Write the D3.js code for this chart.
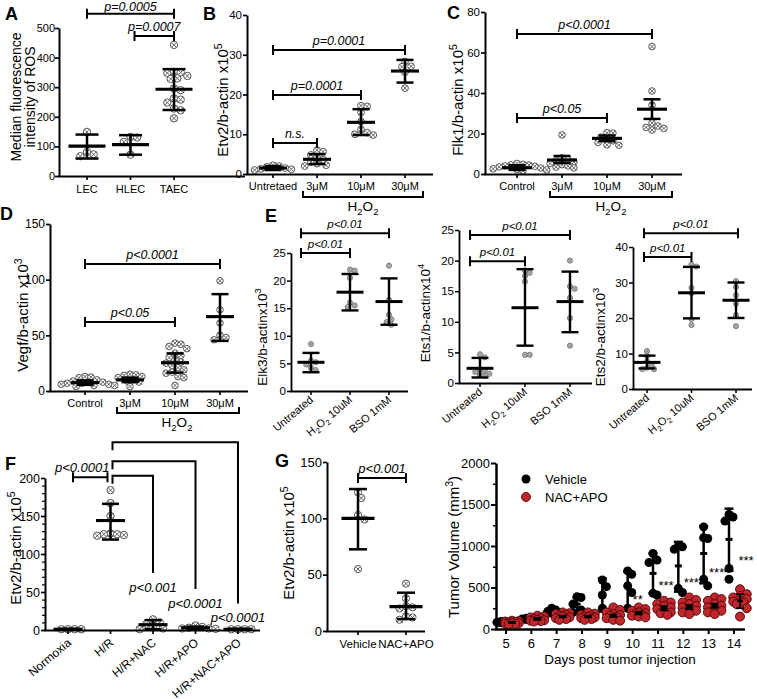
<!DOCTYPE html>
<html><head><meta charset="utf-8">
<script src="https://cdn.jsdelivr.net/npm/d3@7"></script>
<style>
body{margin:0;background:#fff;}
svg{display:block;}
</style></head><body>
<svg id="chart" width="757" height="699"></svg>
<script>
// ================= DATA =================
// Panel A
const catsA = ["LEC","HLEC","TAEC"];
const ptsA = [[149,81,73,67],[132,130,115,72],[443,352,350,348,338,330,328,296,290,262,258,248,228,222,195]];
const meanA = [101,106,293], loA = [59,72,223], hiA = [140,138,361];
const ticksA = [0,100,200,300,400,500];
// Panel B
const catsB = ["Untretaed","3μM","10μM","30μM"];
const ptsB = [[2.2,2.0,1.8,1.5,1.3,1.2,1.0],[6,5.6,4.8,4.2,3.6,3.0,2.6,2.2,2.0],[17.2,17.0,15.5,13.2,11.2,10.4,10.0,9.8],[28.3,27.1,27.0,25.6,21.6]];
const meanB = [1.5,3.7,13,25.9], loB = [1.0,2.5,9.8,23], hiB = [2.0,5.0,16.3,28.7];
const ticksB = [0,10,20,30,40];
// Panel C
const catsC = ["Control","3μM","10μM","30μM"];
const ptsC = [[5.2,4.8,4.5,4.0,3.5,3.0,2.6,2.2,2.0,1.6,3.8,4.4],[19.3,8.0,7.2,6.5,6.0,5.2,4.6,4.0,3.4,3.0],[20.4,20.2,18.2,17.5,16.4,15.6,14.4,14.2],[62.9,41,34,25.2,23.7,22.5,21.7,23.0]];
const meanC = [3.1,6.9,17.6,32], loC = [2.0,5.4,16.2,27.2], hiC = [4.3,8.9,19.0,36.9];
const ticksC = [0,20,40,60,80];
// Panel D
const catsD = ["Control","3μM","10μM","30μM"];
const ptsD = [[13,12.5,12,10,9,8,8,7,7,6,6,5,5,4],[15,14.5,14,13,12,10,9,8,4],[43,42,40,38,34,32,30,28,26,25,23,21,19,17,16,13,12,5],[99,73,61,50,48,46]];
const meanD = [7.5,10,25.4,66.8], loD = [5.5,8,16.5,45], hiD = [9.5,12,33.8,87];
const ticksD = [0,50,100,150];
// Panel E
const catsE = ["Untreated","H2O2 10uM","BSO 1mM"];
const ptsE1 = [[8.5,5.5,5.2,4.8,4.2,3.8],[22,21.8,20.5,16,15.5,15.2],[22.7,16.5,13.8,13,12.5,12]];
const meanE1 = [5.2,17.9,16.2], loE1 = [3.4,14.6,12], hiE1 = [6.9,21.2,20.4];
const ptsE2 = [[4.7,4.2,2.2,1.8,1.5,1.3,1.2,2.0],[18.4,18,17.5,16.6,4.6,4.6],[20,15.8,15.4,13.9,10.6,6.1]];
const meanE2 = [2.4,12.3,13.3], loE2 = [0.9,6.1,8.3], hiE2 = [4.1,18.6,18.2];
const ptsE3 = [[10.7,9.3,7.8,6.8,6.0,5.6,5.6],[35,34.5,28.5,27,19.7,18],[30.4,28.8,26.4,24,20.8,17.7]];
const meanE3 = [7.5,27.1,25], loE3 = [5.8,19.9,20], hiE3 = [9.4,34.4,30];
const ticksE12 = [0,5,10,15,20,25], ticksE3 = [0,10,20,30,40];
// Panel F
const catsF = ["Normoxia","H/R","H/R+NAC","H/R+APO","H/R+NAC+APO"];
const ptsF = [[1,1,1,1],[184,167,150,127,126,126,125,124],[14,10,8,5,2,1],[6,4,3,2,2,1.5],[1,1,1,1]];
const meanF = [1,144,7,3,1], loF = [0.5,119,1,1.5,0.5], hiF = [1.5,166,13,4.5,1.5];
const ticksF = [0,50,100,150,200];
// Panel G
const catsG = ["Vehicle","NAC+APO"];
const ptsG = [[123,118,103,99,55],[42,29,22,21,20,13,12,10]];
const meanG = [100,21.6], loG = [72.5,10.6], hiG = [126,34];
const ticksG = [0,50,100,150];
// Tumor volume panel
const days = [5,6,7,8,9,10,11,12,13,14];
const vehVals = [[90,85,80,75,70],[130,125,120,115,110],[250,230,210,190,180],[390,380,300,230,200],[590,510,410,250,200],[700,660,520,440,250],[910,830,800,430,410],[1000,990,960,490,440],[1230,1100,1090,600,520],[1380,1350,1300,730,600]];
const vehMean = [80,120,210,300,430,537,670,760,910,1080];
const vehLo = [75,115,185,220,210,250,430,450,550,700];
const vehHi = [85,125,235,380,610,690,910,1050,1240,1450];
const nacVals = [[100,95,90,85,80,75,70,65,60,55],[160,150,140,130,120,110,105,100,95,90],[200,190,180,170,160,150,140,130,120,110],[200,185,170,160,150,145,140,130,120,110],[260,230,200,180,170,160,150,130,110,100],[260,240,220,200,190,180,170,160,150,140],[340,320,300,280,260,240,220,200,190,170],[380,350,320,300,280,260,240,220,200,180],[380,360,340,300,280,260,240,220,200,180],[480,420,400,380,360,340,330,320,300,250,150]];
const nacMean = [80,120,150,150,160,190,250,265,280,340];
const nacLo = [75,110,140,140,145,175,225,240,255,250];
const nacHi = [85,130,160,160,175,205,275,290,305,420];
const tumorTicks = [0,500,1000,1500,2000];
const starDays = [10,11,12,13,14];
const starText = ["**","***","***","***","***"];
const starVals = [390,550,590,710,860];

// ================= DRAWING =================
const FONT = "'Liberation Sans', Arial, Helvetica, sans-serif";
const svg = d3.select("#chart").attr("font-family", FONT);

function rich(sel, segs, fs){
  let shift = 0;
  segs.forEach(([t,m])=>{
    const target = m==="sup" ? -0.42*fs : m==="sub" ? 0.28*fs : 0;
    const ts = sel.append("tspan").text(t).attr("dy", target - shift);
    if(m) ts.attr("font-size", fs*0.7);
    shift = target;
  });
}
function chem(s){
  if(s.startsWith("H2O2")) return [["H"],["2","sub"],["O"],["2","sub"],[s.slice(4)]];
  return [[s]];
}
function marker(g, x, y, r, type){
  if(type==="ox"){
    g.append("circle").attr("cx",x).attr("cy",y).attr("r",r).attr("fill","#fff").attr("stroke","#555").attr("stroke-width",1);
    const d = r*0.68;
    g.append("path").attr("d",`M${x-d},${y-d}L${x+d},${y+d}M${x-d},${y+d}L${x+d},${y-d}`).attr("stroke","#555").attr("stroke-width",0.9);
  } else if(type==="dot"){
    g.append("circle").attr("cx",x).attr("cy",y).attr("r",r).attr("fill","#b8b8b8").attr("stroke","#6a6a6a").attr("stroke-width",0.8);
    const d = r*0.6;
    g.append("path").attr("d",`M${x-d},${y-d}L${x+d},${y+d}M${x-d},${y+d}L${x+d},${y-d}`).attr("stroke","#777").attr("stroke-width",0.6);
  } else if(type==="black"){
    g.append("circle").attr("cx",x).attr("cy",y).attr("r",r).attr("fill","#000");
  } else if(type==="red"){
    g.append("circle").attr("cx",x).attr("cy",y).attr("r",r).attr("fill","#c0272d").attr("stroke","#4d0606").attr("stroke-width",0.9);
  }
}
// deterministic swarm layout: offsets limited to +-maxOff
function dodge(ys, dist, maxOff){
  maxOff = maxOff==null ? 1e9 : maxOff;
  const order = ys.map((_,i)=>i).sort((a,b)=>ys[a]-ys[b]);
  const placed = [], off = Array(ys.length).fill(0);
  order.forEach(i=>{
    let best = 0, bestD = -1, done = false;
    for(let k=0;k<80;k++){
      const o = (k%2?1:-1)*Math.ceil(k/2)*dist*0.5;
      if(Math.abs(o) > maxOff) break;
      const md = placed.length ? Math.min(...placed.map(p=>Math.hypot(p.x-o,p.y-ys[i]))) : 1e9;
      if(md >= dist*0.98){ best = o; done = true; break; }
      if(md > bestD){ bestD = md; best = o; }
    }
    off[i] = best; placed.push({x:best,y:ys[i]});
  });
  return off;
}
function letter(t,x,y){
  svg.append("text").attr("x",x).attr("y",y).attr("font-size",18).attr("font-weight","bold").text(t);
}
function vtitle(segs, xb, yc, fs){
  const t = svg.append("text").attr("transform",`translate(${xb},${yc}) rotate(-90)`)
    .attr("text-anchor","middle").attr("font-size",fs);
  rich(t, segs, fs);
}

function dotPanel(c){
  const g = svg.append("g");
  const y = d3.scaleLinear().domain(c.domain).range([c.yB, c.yT]);
  const x = d3.scalePoint().domain(c.cats).range(c.catRange);
  const aw = c.axisW || 2, bw = c.bw || 2.5;
  const pg = g.append("g");
  c.pts.forEach((vals,i)=>{
    const ys = vals.map(v=>y(v));
    const off = dodge(ys, 2*c.r*(c.sep||0.9), c.maxOff);
    vals.forEach((v,j)=>marker(pg, x(c.cats[i])+off[j], ys[j], c.r, c.marker));
  });
  const eg = g.append("g").attr("stroke","#000").attr("fill","none");
  c.cats.forEach((cat,i)=>{
    const cx = x(cat);
    eg.append("line").attr("x1",cx).attr("x2",cx).attr("y1",y(c.lo[i])).attr("y2",y(c.hi[i])).attr("stroke-width",bw);
    [c.lo[i],c.hi[i]].forEach(v=>eg.append("line").attr("x1",cx-c.capW/2).attr("x2",cx+c.capW/2).attr("y1",y(v)).attr("y2",y(v)).attr("stroke-width",bw));
    eg.append("line").attr("x1",cx-c.meanW/2).attr("x2",cx+c.meanW/2).attr("y1",y(c.mean[i])).attr("y2",y(c.mean[i])).attr("stroke-width",bw+0.6);
  });
  // y axis
  const gy = g.append("g").attr("transform",`translate(${c.axisX},0)`)
    .call(d3.axisLeft(y).tickValues(c.ticks).tickSize(c.tickLen||4).tickSizeOuter(0).tickPadding(c.tickPad==null?1:c.tickPad));
  gy.attr("font-family",FONT).attr("font-size",c.tickFont||11.5);
  gy.select(".domain").attr("stroke-width",aw);
  gy.selectAll(".tick line").attr("stroke-width",aw*0.85);
  gy.selectAll(".tick text").attr("fill","#000");
  if(c.minor){
    const mt = d3.range(c.domain[0], c.domain[1]+1e-9, c.minor).filter(v=>!c.ticks.includes(v));
    gy.selectAll(".minor").data(mt).join("line").attr("x1",-3).attr("x2",0)
      .attr("y1",d=>y(d)+0.5).attr("y2",d=>y(d)+0.5).attr("stroke","#000").attr("stroke-width",1.2);
  }
  // x axis
  g.append("line").attr("x1",c.axisX-aw/2).attr("x2",c.xRight).attr("y1",c.yB+0.5).attr("y2",c.yB+0.5).attr("stroke","#000").attr("stroke-width",aw);
  c.cats.forEach(cat=>{
    g.append("line").attr("x1",x(cat)).attr("x2",x(cat)).attr("y1",c.yB).attr("y2",c.yB+4).attr("stroke","#000").attr("stroke-width",aw*0.85);
  });
  const lf = c.catFont || 11;
  c.cats.forEach(cat=>{
    if(c.rot){
      const t = g.append("text").attr("transform",`translate(${x(cat)+(c.rotDx||3)},${c.yB+(c.rotDy||10)}) rotate(${c.rot})`)
        .attr("text-anchor","end").attr("font-size",lf);
      rich(t, chem(cat), lf);
    } else {
      g.append("text").attr("x",x(cat)).attr("y",c.yB+(c.labDy||16)).attr("text-anchor","middle").attr("font-size",lf).text(cat);
    }
  });
  // significance bars
  (c.sigs||[]).forEach(s=>{
    const x1 = x(c.cats[s.a])+(s.oa||0), x2 = x(c.cats[s.b])+(s.ob||0), yy = y(s.v);
    g.append("path").attr("d",`M${x1},${yy-5}V${yy+5}M${x1},${yy}H${x2}M${x2},${yy-5}V${yy+5}`)
      .attr("stroke","#000").attr("stroke-width",2).attr("fill","none");
    g.append("text").attr("x",(x1+x2)/2+(s.tdx||0)).attr("y",yy-(s.tdy||5)).attr("text-anchor","middle")
      .attr("font-size",c.sigFont||12.5).attr("font-style","italic").text(s.text);
  });
  if(c.title) vtitle(c.title, c.titleX, c.titleY, c.titleFont||15);
  return {x,y,g};
}
function h2o2Bracket(x1,x2,yy,tx){
  svg.append("path").attr("d",`M${x1},${yy-6}V${yy}H${x2}V${yy-6}`).attr("stroke","#000").attr("stroke-width",2).attr("fill","none");
  const t = svg.append("text").attr("x",tx).attr("y",yy+14).attr("text-anchor","middle").attr("font-size",13.5);
  rich(t, chem("H2O2"), 13.5);
}

// ---- A ----
letter("A",5,20);
dotPanel({cats:catsA, pts:ptsA, mean:meanA, lo:loA, hi:hiA, axisX:59, xRight:245, yB:176, yT:28,
  domain:[0,500], ticks:ticksA, catRange:[87,174], marker:"ox", r:3.7, meanW:37, capW:23, labDy:17,
  tickFont:11, tickPad:0,
  sigs:[{a:0,b:2,v:548,text:"p=0.0005",tdy:3},{a:1,b:2,v:473,text:"p=0.0007",oa:4}]});
svg.append("text").attr("transform","translate(21,97) rotate(-90)").attr("text-anchor","middle").attr("font-size",14).text("Median fluorescence");
svg.append("text").attr("transform","translate(35,97) rotate(-90)").attr("text-anchor","middle").attr("font-size",14).text("intensity of ROS");

// ---- B ----
letter("B",203,20);
dotPanel({cats:catsB, pts:ptsB, mean:meanB, lo:loB, hi:hiB, axisX:247, xRight:433, yB:174, yT:15,
  domain:[0,40], ticks:ticksB, catRange:[273,405], marker:"ox", r:3.4, meanW:28, capW:17,
  sigs:[{a:0,b:3,v:31.2,text:"p=0.0001"},{a:0,b:2,v:19.9,text:"p=0.0001"},{a:0,b:1,v:7.8,text:"n.s."}],
  title:[["Etv2/b-actin x10"],["5","sup"]], titleX:228, titleY:100});
h2o2Bracket(303,423,197,363);

// ---- C ----
letter("C",447,19);
dotPanel({cats:catsC, pts:ptsC, mean:meanC, lo:loC, hi:hiC, axisX:485, xRight:682, yB:174, yT:12,
  domain:[0,80], ticks:ticksC, catRange:[517,652], marker:"ox", r:3.3, meanW:30, capW:17,
  sigs:[{a:0,b:3,v:69.1,text:"p<0.0001"},{a:0,b:2,v:27.7,text:"p<0.05"}],
  title:[["Flk1/b-actin x10"],["5","sup"]], titleX:463, titleY:100});
h2o2Bracket(550,672,197,611);

// ---- D ----
letter("D",0,220);
dotPanel({cats:catsD, pts:ptsD, mean:meanD, lo:loD, hi:hiD, axisX:50, xRight:248, yB:391, yT:224,
  domain:[0,150], ticks:ticksD, catRange:[85,220], marker:"ox", r:3.3, meanW:28, capW:17, tickFont:12,
  sigs:[{a:0,b:3,v:114,text:"p<0.0001"},{a:0,b:2,v:62,text:"p<0.05"}],
  title:[["Vegf/b-actin x10"],["3","sup"]], titleX:28, titleY:315});
h2o2Bracket(117,239,413,177);

// ---- E ----
letter("E",265,222);
dotPanel({cats:catsE, pts:ptsE1, mean:meanE1, lo:loE1, hi:hiE1, axisX:291, xRight:408, yB:391, yT:253,
  domain:[0,25], ticks:ticksE12, catRange:[311,389], marker:"dot", r:2.6, meanW:27, capW:17, axisW:1.8, bw:2.4,
  tickFont:11.5, rot:-40, rotDx:3, rotDy:10, sigFont:11.5,
  sigs:[{a:0,b:2,v:28.6,text:"p<0.01",oa:-10},{a:0,b:1,v:25,text:"p<0.01",oa:-10}],
  title:[["Elk3/b-actinx10"],["3","sup"]], titleX:267, titleY:337, titleFont:13.5});
dotPanel({cats:catsE, pts:ptsE2, mean:meanE2, lo:loE2, hi:hiE2, axisX:459, xRight:592, yB:383, yT:230,
  domain:[0,25], ticks:ticksE12, catRange:[480,570], marker:"dot", r:2.6, meanW:27, capW:17, axisW:1.8, bw:2.4,
  tickFont:11.5, rot:-40, rotDx:3, rotDy:10, sigFont:11.5,
  sigs:[{a:0,b:2,v:24.2,text:"p<0.01",oa:-10},{a:0,b:1,v:19.9,text:"p<0.01",oa:-10}],
  title:[["Ets1/b-actinx10"],["4","sup"]], titleX:430, titleY:313, titleFont:13.5});
dotPanel({cats:catsE, pts:ptsE3, mean:meanE3, lo:loE3, hi:hiE3, axisX:633, xRight:752, yB:389, yT:247,
  domain:[0,40], ticks:ticksE3, catRange:[647,736], marker:"dot", r:2.6, meanW:27, capW:17, axisW:1.8, bw:2.4,
  tickFont:11.5, rot:-40, rotDx:3, rotDy:10, sigFont:11.5,
  sigs:[{a:0,b:2,v:43.9,text:"p<0.01",oa:-3,ob:2},{a:0,b:1,v:37.2,text:"p<0.01",oa:-3}],
  title:[["Ets2/b-actinx10"],["3","sup"]], titleX:605, titleY:337, titleFont:13.5});

// ---- F ----
letter("F",5,470);
const pF = dotPanel({cats:catsF, pts:ptsF, mean:meanF, lo:loF, hi:hiF, axisX:45, xRight:260, yB:630, yT:478,
  domain:[0,200], ticks:ticksF, minor:10, catRange:[68,238], marker:"ox", r:3.7, meanW:29, capW:17, tickFont:12.5,
  rot:-40, rotDx:4, rotDy:14, catFont:12, sigFont:13,
  sigs:[{a:0,b:1,v:201,text:"p<0.0001",oa:5,ob:-3,tdx:-8}],
  title:[["Etv2/b-actin x10"],["5","sup"]], titleX:21, titleY:548});
const fBrackets = [{to:"H/R+NAC",top:203,end:75,text:"p<0.001"},{to:"H/R+APO",top:222,end:54,text:"p<0.0001"},{to:"H/R+NAC+APO",top:247,end:35,text:"p<0.0001"}];
fBrackets.forEach(b=>{
  const hx = pF.x("H/R")+2, tx = pF.x(b.to);
  svg.append("path").attr("d",`M${hx},${pF.y(b.top)+8}V${pF.y(b.top)}H${tx}V${pF.y(b.end)}`)
    .attr("stroke","#000").attr("stroke-width",2).attr("fill","none");
  svg.append("text").attr("x",tx).attr("y",pF.y(b.end)+19).attr("text-anchor","middle")
    .attr("font-size",13).attr("font-style","italic").text(b.text);
});

// ---- G ----
letter("G",275,467);
dotPanel({cats:catsG, pts:ptsG, mean:meanG, lo:loG, hi:hiG, axisX:327, xRight:425, yB:631, yT:462,
  domain:[0,150], ticks:ticksG, catRange:[358,406], marker:"ox", r:3.6, meanW:33, capW:18, tickFont:13,
  labDy:17, catFont:11.5, sigFont:13,
  sigs:[{a:0,b:1,v:135.8,text:"p<0.001"}],
  title:[["Etv2/b-actin x10"],["5","sup"]], titleX:294, titleY:543});

// ---- Tumor volume ----
(function(){
  const g = svg.append("g");
  const y = d3.scaleLinear().domain([0,2000]).range([629,463]);
  const x = d3.scaleLinear().domain([5,14]).range([506,734]);
  const r = 4.5;
  days.forEach((d,i)=>{
    const ys = vehVals[i].map(v=>y(v)); const off = dodge(ys, 2*r*0.9, 6);
    ys.forEach((yy,j)=>marker(g, x(d)-5+off[j], yy, r, "black"));
  });
  days.forEach((d,i)=>{
    const cx = x(d)-5;
    g.append("line").attr("x1",cx).attr("x2",cx).attr("y1",y(vehLo[i])).attr("y2",y(vehHi[i])).attr("stroke","#000").attr("stroke-width",2.5);
    [vehLo[i],vehHi[i]].forEach(v=>g.append("line").attr("x1",cx-4.5).attr("x2",cx+4.5).attr("y1",y(v)).attr("y2",y(v)).attr("stroke","#000").attr("stroke-width",2.5));
    g.append("line").attr("x1",cx-3.5).attr("x2",cx+3.5).attr("y1",y(vehMean[i])).attr("y2",y(vehMean[i])).attr("stroke","#000").attr("stroke-width",3);
  });
  days.forEach((d,i)=>{
    const ys = nacVals[i].map(v=>y(v)); const off = dodge(ys, 2*r*0.75, 9);
    ys.forEach((yy,j)=>marker(g, x(d)+6+off[j], yy, r, "red"));
  });
  days.forEach((d,i)=>{
    const cx = x(d)+6;
    g.append("line").attr("x1",cx).attr("x2",cx).attr("y1",y(nacLo[i])).attr("y2",y(nacHi[i])).attr("stroke","#000").attr("stroke-width",1.8);
    [nacLo[i],nacHi[i]].forEach(v=>g.append("line").attr("x1",cx-4).attr("x2",cx+4).attr("y1",y(v)).attr("y2",y(v)).attr("stroke","#000").attr("stroke-width",1.8));
    g.append("line").attr("x1",cx-3).attr("x2",cx+3).attr("y1",y(nacMean[i])).attr("y2",y(nacMean[i])).attr("stroke","#000").attr("stroke-width",2.5);
  });
  const gy = g.append("g").attr("transform","translate(496,0)")
    .call(d3.axisLeft(y).tickValues(tumorTicks).tickFormat(d3.format("d")).tickSize(5).tickSizeOuter(0).tickPadding(1));
  gy.attr("font-family",FONT).attr("font-size",13);
  gy.select(".domain").attr("stroke-width",2.5);
  gy.selectAll(".tick line").attr("stroke-width",2);
  gy.selectAll(".tick text").attr("fill","#000");
  const minorT = d3.range(250,2000,500);
  gy.selectAll(".mn").data(minorT).join("line").attr("x1",-3).attr("x2",0).attr("y1",d=>y(d)+0.5).attr("y2",d=>y(d)+0.5).attr("stroke","#000").attr("stroke-width",1.5);
  g.append("line").attr("x1",495).attr("x2",745).attr("y1",629.5).attr("y2",629.5).attr("stroke","#000").attr("stroke-width",2.5);
  days.forEach(d=>{
    g.append("line").attr("x1",x(d)).attr("x2",x(d)).attr("y1",629).attr("y2",634).attr("stroke","#000").attr("stroke-width",2);
    g.append("text").attr("x",x(d)).attr("y",648).attr("text-anchor","middle").attr("font-size",13).text(d);
  });
  g.append("text").attr("x",620).attr("y",664).attr("text-anchor","middle").attr("font-size",13.5).text("Days post tumor injection");
  vtitle([["Tumor Volume (mm"],["3","sup"],[")"]], 459, 547, 15);
  starDays.forEach((d,i)=>{
    g.append("text").attr("x",x(d)+(d===14?12:d===10?5:8)).attr("y",y(starVals[i])+7).attr("text-anchor","middle").attr("font-size",13).text(starText[i]);
  });
  marker(g,526,479,r,"black");
  marker(g,526,497,r,"red");
  g.append("text").attr("x",545).attr("y",484).attr("font-size",13).text("Vehicle");
  g.append("text").attr("x",545).attr("y",502).attr("font-size",13).text("NAC+APO");
})();
</script>
</body></html>
